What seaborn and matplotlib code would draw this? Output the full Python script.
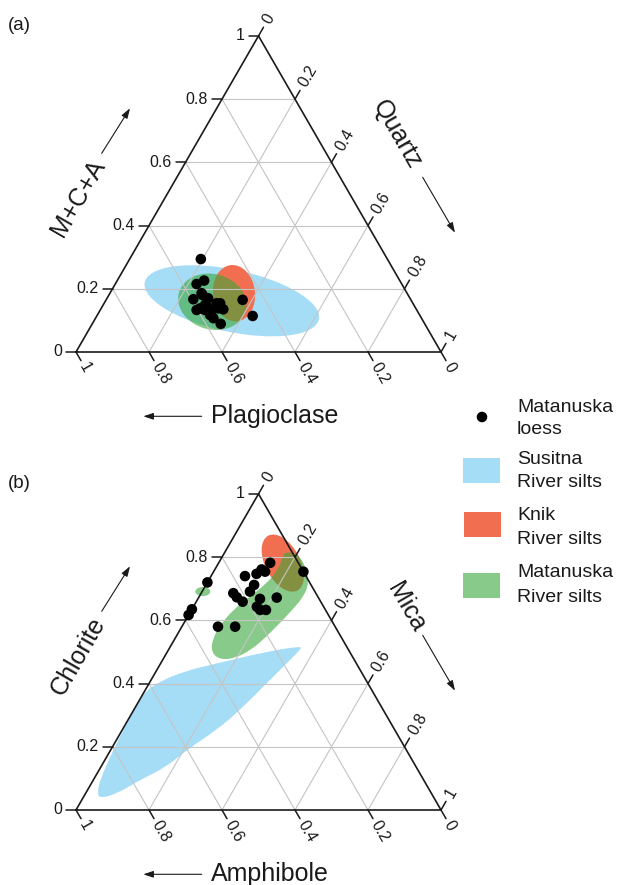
import numpy as np
import pandas as pd
import matplotlib
matplotlib.use("Agg")
import matplotlib.pyplot as plt
import seaborn as sns
from matplotlib.patches import Ellipse, PathPatch, Rectangle, FancyArrowPatch
from matplotlib.path import Path

sns.set_style("white")
plt.rcParams["font.family"] = ["Liberation Sans", "DejaVu Sans"]

# ---------------------------------------------------------------------------
# (a) Matanuska loess: fractions of M+C+A (apex), quartz (right), plagioclase (left)
loess_a_mca = [0.294, 0.215, 0.226, 0.167, 0.180, 0.170, 0.133, 0.149, 0.133, 0.154,
               0.135, 0.154, 0.107, 0.089, 0.165, 0.114, 0.143, 0.117, 0.138, 0.170,
               0.186, 0.133, 0.138]
loess_a_qtz = [0.195, 0.223, 0.238, 0.238, 0.257, 0.277, 0.264, 0.279, 0.305, 0.308,
               0.336, 0.318, 0.323, 0.352, 0.374, 0.427, 0.287, 0.309, 0.271, 0.273,
               0.251, 0.287, 0.321]
loess_a_plag = [0.511, 0.562, 0.536, 0.595, 0.563, 0.553, 0.603, 0.572, 0.562, 0.538,
                0.529, 0.528, 0.570, 0.559, 0.461, 0.459, 0.570, 0.574, 0.591, 0.557,
                0.563, 0.580, 0.541]

# (b) Matanuska loess: fractions of chlorite (apex), mica (right), amphibole (left)
loess_b_chl = [0.782, 0.761, 0.747, 0.740, 0.712, 0.691, 0.686, 0.673, 0.659, 0.668,
               0.643, 0.633, 0.672, 0.754, 0.720, 0.635, 0.617, 0.580, 0.580, 0.633,
               0.754]
loess_b_mica = [0.141, 0.128, 0.121, 0.093, 0.132, 0.131, 0.088, 0.104, 0.127, 0.170,
                0.174, 0.204, 0.214, 0.246, 0.000, 0.000, 0.000, 0.099, 0.146, 0.188,
                0.141]
loess_b_amph = [0.077, 0.111, 0.132, 0.167, 0.156, 0.178, 0.226, 0.223, 0.214, 0.162,
                0.183, 0.163, 0.114, 0.000, 0.280, 0.365, 0.383, 0.321, 0.274, 0.179,
                0.105]

# River-silt fields: centre (apex fraction, right fraction), width, height, angle
susitna_a = dict(top=0.162, right=0.346, w=0.488, h=0.170, angle=-12)
knik_a = dict(top=0.186, right=0.340, w=0.155, h=0.115, angle=97)
matanuska_a = dict(top=0.159, right=0.294, w=0.190, h=0.152, angle=-15)

knik_b = dict(top=0.781, right=0.176, w=0.170, h=0.095, angle=-62)
matanuska_b_small = dict(top=0.691, right=0.002, w=0.041, h=0.025, angle=0)

# Field outlines in (b) as (chlorite, mica) fractions
susitna_b_chl = [0.519, 0.501, 0.464, 0.438, 0.406, 0.380, 0.338, 0.274, 0.190, 0.095,
                 0.053, 0.037, 0.051, 0.095, 0.137, 0.190, 0.253, 0.316, 0.401, 0.464,
                 0.506]
susitna_b_mica = [0.359, 0.272, 0.154, 0.075, 0.027, 0.004, 0.000, 0.002, 0.007, 0.018,
                  0.032, 0.047, 0.086, 0.128, 0.180, 0.208, 0.259, 0.291, 0.322, 0.345,
                  0.361]
matanuska_b_chl = [0.816, 0.813, 0.769, 0.718, 0.677, 0.636, 0.592, 0.547, 0.509, 0.481,
                   0.475, 0.500, 0.544, 0.588, 0.633, 0.671, 0.715, 0.756, 0.800]
matanuska_b_mica = [0.162, 0.199, 0.246, 0.279, 0.286, 0.277, 0.263, 0.247, 0.228, 0.198,
                    0.157, 0.120, 0.103, 0.103, 0.114, 0.136, 0.163, 0.173, 0.167]

tick_values = [0, 0.2, 0.4, 0.6, 0.8, 1]
tick_labels = ["0", "0.2", "0.4", "0.6", "0.8", "1"]

legend_labels = [("Matanuska", "loess"), ("Susitna", "River silts"),
                 ("Knik", "River silts"), ("Matanuska", "River silts")]

# ---------------------------------------------------------------------------
SUSITNA = "#A6DDF6"
KNIK = "#F26E50"
MATANUSKA = (57 / 255, 167 / 255, 58 / 255)
MAT_ALPHA = 0.6
GRID = "#C4C4C4"

H = np.sqrt(3) / 2
W_PX, H_PX = 617, 885
SIDE = 365.0          # triangle side in pixels
X0 = 76               # left vertex, pixels from left


def tern_xy(top, right):
    top = np.asarray(top, float)
    right = np.asarray(right, float)
    return right + top / 2, top * H


def px(d):
    return d / SIDE


def make_axes(fig, band_lo, band_hi, origin):
    ax = fig.add_axes([0, band_lo / H_PX, 1, (band_hi - band_lo) / H_PX])
    ax.set_xlim(-X0 / SIDE, (W_PX - X0) / SIDE)
    ax.set_ylim((band_lo - origin) / SIDE, (band_hi - origin) / SIDE)
    ax.axis("off")
    return ax


def draw_frame(ax):
    for v in tick_values[1:-1]:
        # constant apex fraction
        ax.plot([v / 2, 1 - v / 2], [v * H, v * H], color=GRID, lw=0.8, zorder=3)
        # constant right fraction
        ax.plot([v, v + (1 - v) / 2], [0, (1 - v) * H], color=GRID, lw=0.8, zorder=3)
        # constant left fraction
        ax.plot([1 - v, (1 - v) / 2], [0, (1 - v) * H], color=GRID, lw=0.8, zorder=3)
    ax.plot([0, 1, 0.5, 0], [0, 0, H, 0], color="#1a1a1a", lw=1.2, zorder=6,
            solid_joinstyle="miter")

    tl = px(10)
    d_up = np.array([0.5, H])
    d_dn = np.array([0.5, -H])
    for v, lab in zip(tick_values, tick_labels):
        # left axis: apex fraction
        x, y = v / 2, v * H
        ax.plot([x - tl, x], [y, y], color="#1a1a1a", lw=1.1, zorder=6)
        ax.text(x - px(14), y, lab, ha="right", va="center", fontsize=11.5,
                color="#1a1a1a")
        # bottom axis: left-vertex fraction (1 at the left vertex)
        x, y = 1 - v, 0.0
        e = np.array([x, y]) + d_dn * tl
        ax.plot([x, e[0]], [y, e[1]], color="#1a1a1a", lw=1.1, zorder=6)
        a = np.array([x, y]) + d_dn * px(13)
        ax.text(a[0], a[1], lab, ha="left", va="center", rotation=-60,
                rotation_mode="anchor", fontsize=11.5, color="#1a1a1a")
        # right axis: right-vertex fraction (0 at the apex)
        x, y = (1 + v) / 2, (1 - v) * H
        e = np.array([x, y]) + d_up * tl
        ax.plot([x, e[0]], [y, e[1]], color="#1a1a1a", lw=1.1, zorder=6)
        a = np.array([x, y]) + d_up * px(15)
        ax.text(a[0], a[1], lab, ha="left", va="center", rotation=60,
                rotation_mode="anchor", fontsize=11.5, color="#1a1a1a")


def arrow(ax, p0, p1):
    ax.add_patch(FancyArrowPatch(p0, p1, arrowstyle="-|>,head_length=0.6,head_width=0.2",
                                 mutation_scale=10, lw=0.8, color="#1a1a1a",
                                 shrinkA=0, shrinkB=0, clip_on=False, zorder=7))


def draw_titles(ax, letter, left_title, right_title, bottom_title, right_center):
    ax.text(px(8 - X0), px(352 - 25), letter, ha="left", va="center", fontsize=13.5,
            color="#1a1a1a")
    ax.text(px(78 - X0), px(352 - 198), left_title, ha="center", va="center",
            rotation=60, rotation_mode="anchor", fontsize=18, color="#1a1a1a")
    arrow(ax, (px(101.7 - X0), px(352 - 153.3)), (px(130 - X0), px(352 - 108.3)))
    ax.text(px(right_center[0] - X0), px(352 - right_center[1]), right_title,
            ha="center", va="center", rotation=-60, rotation_mode="anchor", fontsize=18,
            color="#1a1a1a")
    arrow(ax, (px(422.7 - X0), px(352 - 177.3)), (px(455 - X0), px(352 - 232.7)))
    ax.text(px(211 - X0), px(352 - 422.5), bottom_title, ha="left", va="baseline",
            fontsize=18, color="#1a1a1a")
    arrow(ax, (px(201.7 - X0), px(352 - 416.3)), (px(143.3 - X0), px(352 - 416.3)))


def ellipse(ax, spec, color, alpha=1.0, z=2):
    cx, cy = tern_xy(spec["top"], spec["right"])
    e = Ellipse((float(cx), float(cy)), spec["w"], spec["h"], angle=spec["angle"],
                facecolor=color, edgecolor="none", alpha=alpha, zorder=z)
    ax.add_patch(e)
    return e


def smooth_outline(xs, ys):
    pts = np.column_stack([xs, ys])
    n = len(pts)
    mids = [(pts[i] + pts[(i + 1) % n]) / 2 for i in range(n)]
    verts = [mids[-1]]
    codes = [Path.MOVETO]
    for i in range(n):
        verts += [pts[i], mids[i]]
        codes += [Path.CURVE3, Path.CURVE3]
    verts.append(mids[-1])
    codes.append(Path.CLOSEPOLY)
    return Path(verts, codes)


def field(ax, top, right, color, alpha=1.0, z=1):
    fx, fy = tern_xy(top, right)
    ax.add_patch(PathPatch(smooth_outline(fx, fy), facecolor=color, edgecolor="none",
                           alpha=alpha, zorder=z))


def scatter_points(ax, top, right):
    x, y = tern_xy(top, right)
    df = pd.DataFrame({"x": x, "y": y})
    sns.scatterplot(data=df, x="x", y="y", ax=ax, color="black", s=58,
                    edgecolor="none", linewidth=0, zorder=8, legend=False)
    ax.set_xlabel("")
    ax.set_ylabel("")


fig = plt.figure(figsize=(W_PX / 100, H_PX / 100), dpi=100)

# ---------------- panel (a)
ax_a = make_axes(fig, 442, 885, 533)
ellipse(ax_a, susitna_a, SUSITNA, z=1)
ellipse(ax_a, knik_a, KNIK, z=1.5)
ellipse(ax_a, matanuska_a, MATANUSKA, alpha=MAT_ALPHA, z=2)
draw_frame(ax_a)
scatter_points(ax_a, loess_a_mca, loess_a_qtz)
draw_titles(ax_a, "(a)", "M+C+A", "Quartz", "Plagioclase", (397.5, 135))
ax_a.axis("off")

# ---------------- panel (b)
ax_b = make_axes(fig, 0, 442, 75)
field(ax_b, susitna_b_chl, susitna_b_mica, SUSITNA, z=1)
ellipse(ax_b, knik_b, KNIK, z=1.5)
field(ax_b, matanuska_b_chl, matanuska_b_mica, MATANUSKA, alpha=MAT_ALPHA, z=2)
ellipse(ax_b, matanuska_b_small, MATANUSKA, alpha=MAT_ALPHA, z=2)
draw_frame(ax_b)
scatter_points(ax_b, loess_b_chl, loess_b_mica)
draw_titles(ax_b, "(b)", "Chlorite", "Mica", "Amphibole", (406.7, 149.5))
ax_b.axis("off")

# ---------------- legend
ax_l = fig.add_axes([0, 0, 1, 1], facecolor="none")
ax_l.set_xlim(0, W_PX)
ax_l.set_ylim(H_PX, 0)
ax_l.axis("off")
ax_l.scatter([482], [417], s=58, color="black", edgecolor="none")
swatches = [(SUSITNA, 1.0, 463, 458), (KNIK, 1.0, 464, 511.7),
            (MATANUSKA, MAT_ALPHA, 463, 572.7)]
for col, al, x, y in swatches:
    ax_l.add_patch(Rectangle((x, y), 37, 25, facecolor=col, alpha=al, edgecolor="none"))
baselines = [(412, 433.5), (463.5, 487), (520, 544.5), (577, 601.5)]
for (l1, l2), (b1, b2) in zip(legend_labels, baselines):
    ax_l.text(517, b1, l1, ha="left", va="baseline", fontsize=14, color="#1a1a1a")
    ax_l.text(517, b2, l2, ha="left", va="baseline", fontsize=14, color="#1a1a1a")

fig.savefig("out.png", dpi=100)
